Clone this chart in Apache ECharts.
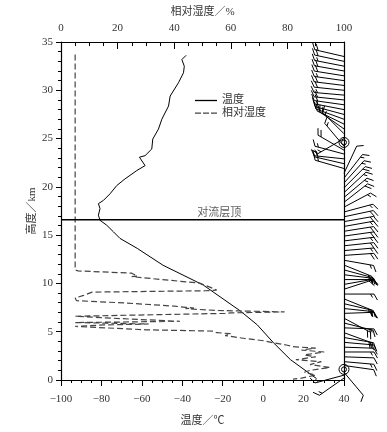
<!DOCTYPE html>
<html><head><meta charset="utf-8">
<script src="https://cdn.jsdelivr.net/npm/echarts/dist/echarts.min.js"></script>
<style>html,body{margin:0;padding:0;background:#fff}#c{width:387px;height:432px}</style>
</head><body><div id="c"></div>
<script>
// ---- axis ranges ----
const T_MIN = -100, T_MAX = 40, T_STEP = 20;
const RH_MIN = 0, RH_MAX = 100, RH_STEP = 20;
const H_MIN = 0, H_MAX = 35, H_STEP = 5;
const TROPO_H = 16.6;           // tropopause height (km)
const TROPO_LABEL_T = -21.7;    // where the label sits along the temperature axis

// ---- temperature profile (height km, temperature °C) ----
const tempH = [33.62,33.18,32.49,31.81,30.78,29.4,28.37,27.01,25.98,24.95,23.92,23.23,23.07,22.2,21.69,20.83,20.14,19.29,18.6,18.26,17.75,17.06,16.54,16.03,15.35,14.66,13.63,11.88,9.83,7.15,5.71,3.86,2.11,0.15];
const tempT = [-38.1,-40.2,-39.0,-39.4,-41.9,-46.0,-46.8,-50.1,-51.8,-54.6,-55.1,-58.4,-61.2,-58.4,-62.5,-68.3,-72.4,-75.7,-79.0,-81.5,-80.7,-81.5,-80.7,-77.4,-74.1,-70.8,-62.3,-49.5,-29.6,-11.3,-2.9,5.1,13.5,26.4];

// ---- relative humidity profile (height km, RH %) ----
const rhH = [33.7,11.4,11.3,11.06,10.75,10.7,10.03,9.45,9.3,9.24,9.1,8.76,8.49,8.21,7.97,7.65,7.53,7.45,7.39,7.2,7.05,6.95,6.9,6.6,6.5,6.3,6.08,6.0,5.95,5.8,5.7,5.55,5.4,5.2,5.06,4.9,4.8,4.6,4.3,4.05,3.85,3.6,3.45,3.3,3.1,2.9,2.6,2.4,2.1,1.9,1.6,1.3,1.0,0.8,0.5,0.2,0.1];
const rhV = [5,5,6,25,27,25,49,54,55,51,11,8,5,5.5,23,40,44,47,44,55,79,60,58,5,5,25,42,20,5,31,15,5,5,30,54,55,60,58,65,72,75,80,82,90,85,93,86,90,83,92,88,95,88,86,90,85,82];

// ---- wind barbs (height km, direction deg, speed; 0 = calm) ----
const windH = [33.5,33.0,32.5,32.0,31.5,31.0,30.5,30.0,29.5,29.0,28.5,28.0,27.5,27.0,26.5,26.0,25.5,25.0,24.6,24.2,23.8,23.4,22.9,22.4,21.9,21.4,20.9,20.4,19.9,19.4,18.9,18.4,17.9,17.4,16.9,16.4,15.9,15.4,14.9,14.4,13.9,13.4,12.9,12.4,11.9,11.4,10.9,10.4,9.9,9.4,8.9,8.4,7.9,7.4,6.9,6.4,5.9,5.4,4.9,4.4,3.9,3.4,2.9,2.4,1.9,1.5,1.1,0.8,0.5,0.2];
const windDir = [283,282,281,280,279,278,277,276,275,276,278,281,285,290,296,305,315,240,0,320,300,285,276,283,286,25,38,42,45,47,50,52,62,75,78,80,80,81,82,83,84,85,86,100,112,105,97,90,80,72,90,112,103,96,88,118,104,92,110,100,95,92,90,92,95,98,0,140,255,235];
const windSpd = [20,20,15,20,20,15,20,20,15,20,20,15,20,15,15,20,15,15,0,15,20,15,20,20,15,10,15,15,20,15,15,20,15,15,20,20,15,20,20,15,20,15,20,15,20,15,20,15,15,20,15,15,20,15,15,20,15,15,20,15,15,10,15,10,15,10,0,10,15,15];

const FONT = "'Liberation Serif','Noto Sans CJK SC',serif";
const TXT = '#333';
const minusFmt = v => (v < 0 ? '\u2212' + (-v) : String(v));

const tempData = tempH.map((h, i) => [tempT[i], h]);
const rhData = rhH.map((h, i) => [rhV[i], h]);
const windData = windH.map((h, i) => [T_MAX, h, windDir[i], windSpd[i]]);

function renderBarb(params, api) {
  const p = api.coord([api.value(0), api.value(1)]);
  const dir = api.value(2), spd = api.value(3);
  const st = { stroke: '#000', lineWidth: 1, fill: null };
  const ch = [];
  if (spd <= 0) {
    ch.push({ type: 'circle', shape: { cx: p[0], cy: p[1], r: 5 }, style: st });
    ch.push({ type: 'circle', shape: { cx: p[0], cy: p[1], r: 2.5 }, style: st });
    return { type: 'group', children: ch };
  }
  const rad = dir * Math.PI / 180;
  const ux = Math.sin(rad), uy = -Math.cos(rad);
  const L = 30;
  const tip = [p[0] + ux * L, p[1] + uy * L];
  ch.push({ type: 'line', shape: { x1: p[0], y1: p[1], x2: tip[0], y2: tip[1] }, style: st });
  const th = Math.atan2(-uy, ux);
  const ph = th - Math.PI / 3;
  const fx = Math.cos(ph), fy = -Math.sin(ph);
  let rem = spd, d = 0;
  const feathers = [];
  while (rem >= 10) { feathers.push(7); rem -= 10; }
  if (rem >= 5) feathers.push(4);
  if (feathers.length === 1 && feathers[0] === 4) d = 3.5;
  feathers.forEach(len => {
    const sx = tip[0] - ux * d, sy = tip[1] - uy * d;
    ch.push({ type: 'line', shape: { x1: sx, y1: sy, x2: sx + fx * len, y2: sy + fy * len }, style: st });
    d += 3.5;
  });
  return { type: 'group', children: ch };
}

const axisLine = { show: true, onZero: false, lineStyle: { color: '#000', width: 1.2 } };
const chart = echarts.init(document.getElementById('c'), null, { renderer: 'canvas' });
chart.setOption({
  animation: false,
  backgroundColor: '#fff',
  grid: { left: 61, right: 43, top: 42, bottom: 49, containLabel: false },
  legend: {
    data: [
      { name: '温度', icon: 'rect' },
      { name: '相对湿度', icon: 'path://M0,0h6v1h-6zM8,0h6v1h-6zM16,0h6v1h-6z' }
    ],
    orient: 'vertical', left: 195, top: 95, padding: 0,
    itemWidth: 22, itemHeight: 1.3, itemGap: 1.6, symbolKeepAspect: false,
    textStyle: { fontFamily: FONT, fontSize: 11, lineHeight: 11, color: TXT }
  },
  xAxis: [
    {
      type: 'value', position: 'bottom', min: T_MIN, max: T_MAX, interval: T_STEP,
      name: '温度／℃', nameLocation: 'middle', nameGap: 36, nameMoveOverlap: false,
      nameTextStyle: { fontFamily: FONT, fontSize: 11, color: TXT },
      axisLine, splitLine: { show: false },
      axisTick: { show: true, inside: false, length: 6, lineStyle: { color: '#000' } },
      minorTick: { show: true, splitNumber: 4, length: 3, lineStyle: { color: '#000' } },
      axisLabel: { margin: 14, fontFamily: FONT, fontSize: 11, color: TXT, formatter: minusFmt }
    },
    {
      type: 'value', position: 'top', min: RH_MIN, max: RH_MAX, interval: RH_STEP,
      name: '相对湿度／%', nameLocation: 'middle', nameGap: 24, nameMoveOverlap: false,
      nameTextStyle: { fontFamily: FONT, fontSize: 11, color: TXT },
      axisLine, splitLine: { show: false },
      axisTick: { show: true, inside: true, length: 7, lineStyle: { color: '#000' } },
      minorTick: { show: true, splitNumber: 4, length: 4, lineStyle: { color: '#000' } },
      axisLabel: { margin: 8, fontFamily: FONT, fontSize: 11, color: TXT }
    }
  ],
  yAxis: [
    {
      type: 'value', position: 'left', min: H_MIN, max: H_MAX, interval: H_STEP,
      name: '高度／km', nameLocation: 'middle', nameGap: 23, nameMoveOverlap: false,
      nameTextStyle: { fontFamily: FONT, fontSize: 11, color: TXT },
      axisLine, splitLine: { show: false },
      axisTick: { show: true, inside: false, length: 5, lineStyle: { color: '#000' } },
      minorTick: { show: true, splitNumber: 5, length: 3, lineStyle: { color: '#000' } },
      axisLabel: { margin: 8, fontFamily: FONT, fontSize: 11, color: TXT }
    },
    {
      type: 'value', position: 'right', min: H_MIN, max: H_MAX, interval: H_STEP,
      axisLine, axisTick: { show: false }, axisLabel: { show: false }, splitLine: { show: false }
    }
  ],
  series: [
    {
      name: '温度', type: 'line', xAxisIndex: 0, yAxisIndex: 0, data: tempData,
      showSymbol: false, symbol: 'none', lineStyle: { color: '#000', width: 1 }, itemStyle: { color: '#000' }
    },
    {
      name: '相对湿度', type: 'line', xAxisIndex: 1, yAxisIndex: 0, data: rhData,
      showSymbol: false, symbol: 'none', lineStyle: { color: '#444', width: 1.2, type: [6, 3] }, itemStyle: { color: '#444' }
    },
    {
      name: 'tropo', type: 'line', xAxisIndex: 0, yAxisIndex: 0,
      data: [[T_MIN, TROPO_H], [T_MAX, TROPO_H]], showSymbol: false, symbol: 'none', silent: true,
      lineStyle: { color: '#000', width: 1.5 }
    },
    {
      name: 'tropoLabel', type: 'scatter', xAxisIndex: 0, yAxisIndex: 0, symbolSize: 0, silent: true,
      data: [[TROPO_LABEL_T, TROPO_H]],
      label: { show: true, position: 'top', distance: 1, formatter: '对流层顶', fontFamily: FONT, fontSize: 11, color: TXT }
    },
    {
      name: 'wind', type: 'custom', xAxisIndex: 0, yAxisIndex: 0, clip: false, silent: true,
      data: windData, encode: { x: 0, y: 1 }, renderItem: renderBarb
    }
  ]
});
</script>
</body></html>
